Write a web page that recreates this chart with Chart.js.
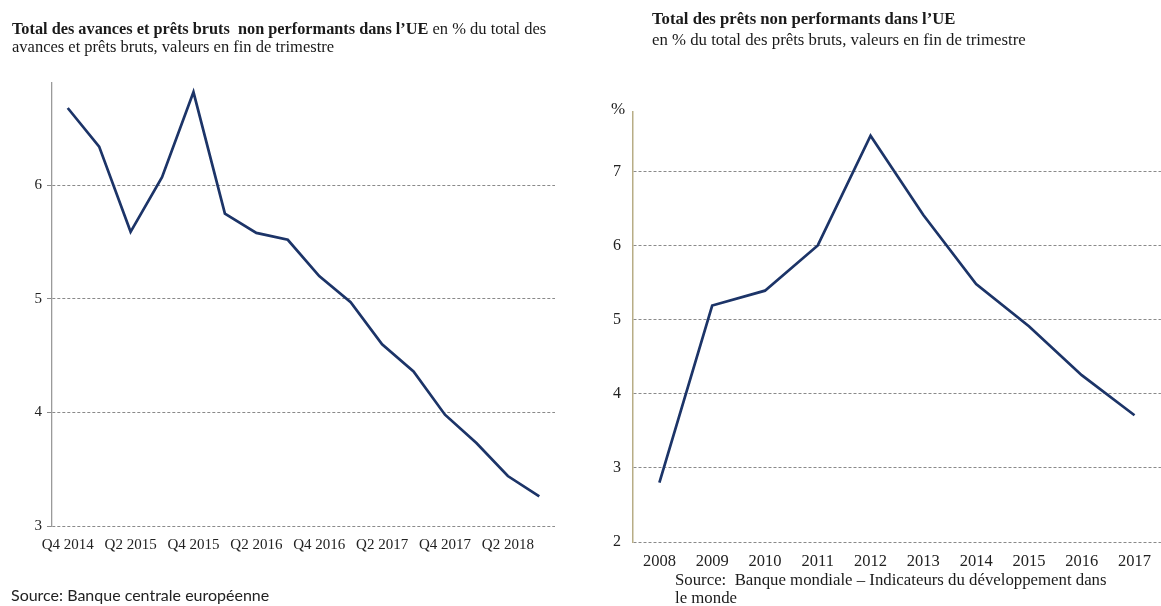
<!DOCTYPE html>
<html><head><meta charset="utf-8">
<script src="https://cdn.jsdelivr.net/npm/chart.js@4"></script>
<style>
body{margin:0;width:1161px;height:606px;background:#fff;position:relative;overflow:hidden;font-family:'Liberation Serif','Times New Roman',serif;color:#1a1a1a}
.box{position:absolute}
.t{position:absolute;white-space:nowrap}
</style></head>
<body>
<div class="box" style="left:0;top:0;width:580px;height:606px"><canvas id="c1"></canvas></div>
<div class="box" style="left:590px;top:0;width:571px;height:606px"><canvas id="c2"></canvas></div>

<div class="t" style="left:12px;top:20px;font-size:16.5px;line-height:18px">
<b style="font-size:16.3px">Total des avances et prêts bruts&nbsp; non performants dans l’UE</b> en % du total des<br>avances et prêts bruts, valeurs en fin de trimestre</div>

<div class="t" style="left:652px;top:8px;font-size:16.8px;line-height:21px">
<b style="font-size:16.7px">Total des prêts non performants dans l’UE</b><br>en % du total des prêts bruts, valeurs en fin de trimestre</div>

<div class="t" style="left:611px;top:99px;font-size:17px">%</div>

<div class="t" style="left:11px;top:585px;font-family:Lato,sans-serif;font-size:16px;color:#222">Source: Banque centrale européenne</div>

<div class="t" style="left:675px;top:571px;font-size:16.8px;line-height:18px">Source:&nbsp; Banque mondiale – Indicateurs du développement dans<br>le monde</div>

<script>
const quarterLabels = ['Q4 2014','Q1 2015','Q2 2015','Q3 2015','Q4 2015','Q1 2016','Q2 2016','Q3 2016','Q4 2016','Q1 2017','Q2 2017','Q3 2017','Q4 2017','Q1 2018','Q2 2018','Q3 2018'];
const nplQuarterly = [6.68, 6.34, 5.59, 6.07, 6.82, 5.75, 5.58, 5.52, 5.20, 4.97, 4.60, 4.36, 3.98, 3.73, 3.44, 3.26];
const leftTicks = [3, 4, 5, 6];

const yearLabels = ['2008','2009','2010','2011','2012','2013','2014','2015','2016','2017'];
const nplAnnual = [2.80, 5.19, 5.39, 6.00, 7.48, 6.41, 5.48, 4.91, 4.25, 3.71];
const rightTicks = [2, 3, 4, 5, 6, 7];

const lineColor = '#1c3468';
const tickFont = {family: "'Liberation Serif', serif", size: 15};

new Chart(document.getElementById('c1'), {
  type: 'line',
  data: {labels: quarterLabels, datasets: [{data: nplQuarterly, borderColor: lineColor, borderWidth: 2.7, pointRadius: 0, tension: 0, fill: false}]},
  options: {
    responsive: true, maintainAspectRatio: false, animation: false,
    plugins: {legend: {display: false}, tooltip: {enabled: false}},
    layout: {padding: {top: 83, right: 25, bottom: 40, left: 0}},
    scales: {
      x: {
        offset: true,
        grid: {display: false, drawTicks: false},
        border: {display: false},
        ticks: {autoSkip: false, maxRotation: 0, padding: 10, color: '#222', font: tickFont,
          callback: (v, i) => i % 2 === 0 ? quarterLabels[i] : null},
        afterFit: s => { s.height = 40; }
      },
      y: {
        min: 3, max: 6.9,
        afterBuildTicks: s => { s.ticks = leftTicks.map(v => ({value: v})); },
        grid: {color: '#8a8a8a', lineWidth: 1, drawTicks: true, tickLength: 5, tickColor: '#8a8a8a'},
        border: {display: true, color: '#9a9a9a', width: 1.3, dash: [3, 2]},
        ticks: {padding: 5, color: '#222', font: tickFont},
        afterFit: s => { s.width = 52; }
      }
    }
  }
});

new Chart(document.getElementById('c2'), {
  type: 'line',
  data: {labels: yearLabels, datasets: [{data: nplAnnual, borderColor: lineColor, borderWidth: 2.7, pointRadius: 0, tension: 0, fill: false}]},
  options: {
    responsive: true, maintainAspectRatio: false, animation: false,
    plugins: {legend: {display: false}, tooltip: {enabled: false}},
    layout: {padding: {top: 112, right: 0, bottom: 24, left: 0}},
    scales: {
      x: {
        offset: true,
        grid: {display: false, drawTicks: false},
        border: {display: false},
        ticks: {autoSkip: false, maxRotation: 0, padding: 10, color: '#222', font: {family: "'Liberation Serif', serif", size: 16.5}},
        afterFit: s => { s.height = 40; }
      },
      y: {
        min: 2, max: 7.8,
        afterBuildTicks: s => { s.ticks = rightTicks.map(v => ({value: v})); },
        grid: {color: '#8a8a8a', lineWidth: 1, drawTicks: false},
        border: {display: true, color: '#b8ad86', width: 1.5, dash: [3, 2]},
        ticks: {padding: 12, color: '#222', font: {family: "'Liberation Serif', serif", size: 16}},
        afterFit: s => { s.width = 43; }
      }
    }
  }
});
</script>
</body></html>
